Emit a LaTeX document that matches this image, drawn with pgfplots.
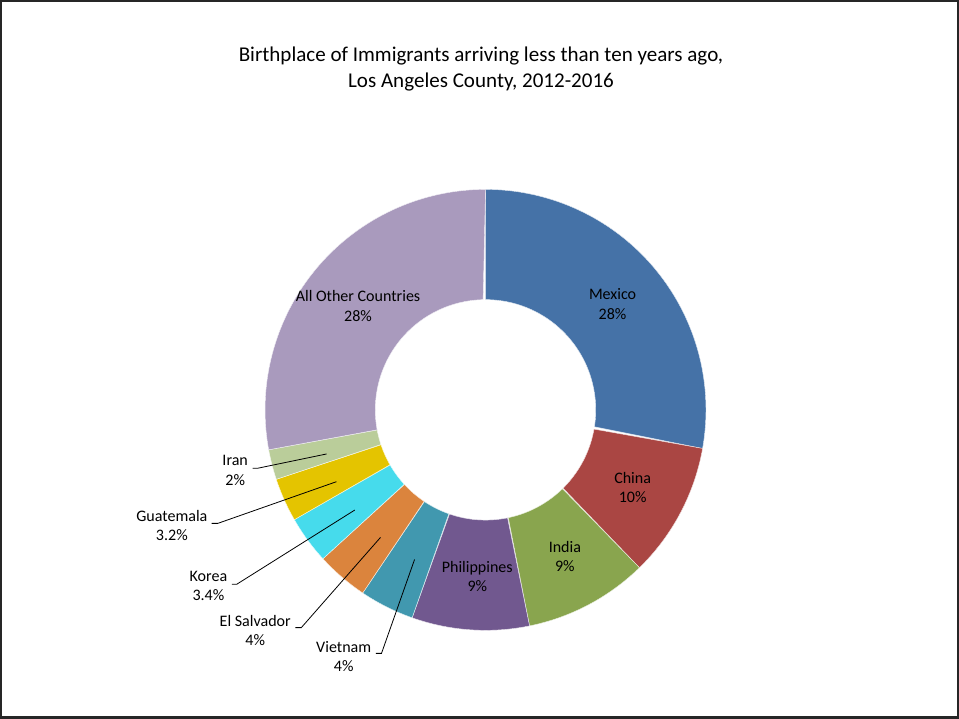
\documentclass[border=0pt]{standalone}
\usepackage{pgfplots}
\pgfplotsset{compat=1.18}
\usepackage{pgfplotstable}
\usepackage{fontspec}
\setmainfont{Carlito}

\definecolor{cMex}{HTML}{4572A7}
\definecolor{cChi}{HTML}{AA4643}
\definecolor{cInd}{HTML}{89A54E}
\definecolor{cPhi}{HTML}{71588F}
\definecolor{cVie}{HTML}{4198AF}
\definecolor{cSal}{HTML}{DB843D}
\definecolor{cKor}{HTML}{46DBEC}
\definecolor{cGua}{HTML}{E4C400}
\definecolor{cIra}{HTML}{BACD9A}
\definecolor{cOth}{HTML}{A99ABD}

% share of immigrants (percent), clockwise from 12 o'clock
\pgfplotstableread{
name value color
Mexico 27.8 cMex
China 9.9 cChi
India 9.1 cInd
Philippines 8.6 cPhi
Vietnam 4.0 cVie
ElSalvador 3.8 cSal
Korea 3.5 cKor
Guatemala 3.2 cGua
Iran 2.2 cIra
Other 27.9 cOth
}\slices

\newcommand{\px}[2]{({#1-485.5},{410-#2})}

\begin{document}
\begin{tikzpicture}
\begin{axis}[
  hide axis, scale only axis,
  width=959pt, height=719pt,
  xmin=-485.5, xmax=473.5, ymin=-309, ymax=410,
  clip=false,
]
\pgfplotstablegetrowsof{\slices}
\pgfmathtruncatemacro\last{\pgfplotsretval-1}
\gdef\cum{0}
\pgfplotsforeachungrouped \i in {0,...,\last}{
  \pgfplotstablegetelem{\i}{value}\of\slices \let\v\pgfplotsretval
  \pgfplotstablegetelem{\i}{color}\of\slices \let\c\pgfplotsretval
  \pgfmathsetmacro\a{90-3.6*(\cum)}
  \pgfmathsetmacro\b{90-3.6*(\cum+\v)}
  \pgfmathsetmacro\newcum{\cum+\v}\xdef\cum{\newcum}
  \edef\doplot{\noexpand\addplot[fill=\c, draw=white!85!\c, line width=0.4pt,
     domain=0:2, samples=161, variable=\noexpand\t]
     ({((\noexpand\t<=1) ? 220 : 110)*cos((\noexpand\t<=1) ? ((\a)+((\b)-(\a))*\noexpand\t) : ((\b)+((\a)-(\b))*(\noexpand\t-1)))},
      {((\noexpand\t<=1) ? 220 : 110)*sin((\noexpand\t<=1) ? ((\a)+((\b)-(\a))*\noexpand\t) : ((\b)+((\a)-(\b))*(\noexpand\t-1)))}) -- cycle;}
  \doplot
}

% frame
\draw[line width=2pt, black!85] \px{2}{2} rectangle \px{957}{717};

% title
\node[align=center, font=\fontsize{21}{26}\selectfont] at \px{481}{70}
  {Birthplace of Immigrants arriving less than ten years ago,\\Los Angeles County, 2012-2016};

% inside labels
\begin{scope}[every node/.style={align=center, font=\fontsize{16}{19.2}\selectfont}]
\node at \px{612.3}{304.5} {Mexico\\28\%};
\node at \px{632.3}{487.2} {China\\10\%};
\node at \px{564.7}{556.3} {India\\9\%};
\node at \px{477.3}{576.3} {Philippines\\9\%};
\node at \px{358.3}{306.3} {All Other Countries\\28\%};
% outside labels
\node at \px{235.7}{470.4} {Iran\\2\%};
\node at \px{172.5}{525.7} {Guatemala\\3.2\%};
\node at \px{209}{585.4} {Korea\\3.4\%};
\node at \px{255.7}{630} {El Salvador\\4\%};
\node at \px{344}{656} {Vietnam\\4\%};
\end{scope}

% leader lines
\begin{scope}[line width=0.8pt, black]
\draw \px{253}{468.3} -- \px{258}{468.3} -- \px{327}{454};
\draw \px{212.3}{523.3} -- \px{218.3}{523.3} -- \px{336.7}{481.7};
\draw \px{232.3}{584} -- \px{237.3}{584} -- \px{355}{510};
\draw \px{295.7}{627.3} -- \px{301.7}{627.3} -- \px{380.7}{537.3};
\draw \px{376}{653} -- \px{381.7}{653} -- \px{414.7}{559.3};
\end{scope}
\end{axis}
\end{tikzpicture}
\end{document}
